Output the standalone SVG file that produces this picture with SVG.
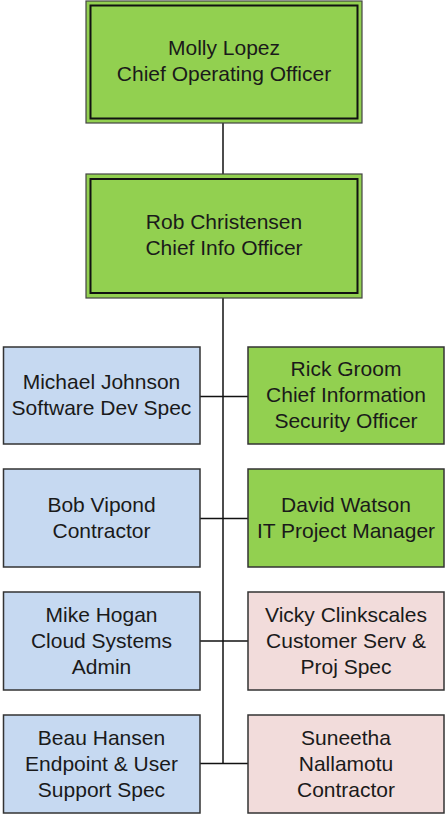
<svg xmlns="http://www.w3.org/2000/svg" width="445" height="817" viewBox="0 0 445 817">
<style>
.g{fill:#92D050}.b{fill:#C6D9F1}.p{fill:#F2DCDB}
.box{stroke:#333;stroke-width:1.5}
.outer{fill:#92D050;stroke:#444;stroke-width:1.2}
.inner{fill:none;stroke:#111;stroke-width:2}
text{font-family:"Liberation Sans",Arial,sans-serif;font-size:21px;fill:#1a1a1a;text-anchor:middle}
.c{stroke:#111;stroke-width:1.5;fill:none}
</style>
<rect width="445" height="817" fill="#fff"/>
<g id="connectors">
<line class="c" x1="223" y1="123" x2="223" y2="174"/>
<line class="c" x1="223" y1="298" x2="223" y2="763.5"/>
<line class="c" x1="200" y1="396.5" x2="248" y2="396.5"/>
<line class="c" x1="200" y1="518.5" x2="248" y2="518.5"/>
<line class="c" x1="200" y1="641" x2="248" y2="641"/>
<line class="c" x1="200" y1="763.5" x2="248" y2="763.5"/>
</g>
<g id="molly">
<rect class="outer" x="86" y="1" width="276" height="122"/>
<rect class="inner" x="90.5" y="5.5" width="267" height="113"/>
<text x="224" y="55">Molly Lopez</text>
<text x="224" y="81">Chief Operating Officer</text>
</g>
<g id="rob">
<rect class="outer" x="86" y="174" width="276" height="124"/>
<rect class="inner" x="90.5" y="179" width="267" height="114"/>
<text x="224" y="229">Rob Christensen</text>
<text x="224" y="255">Chief Info Officer</text>
</g>
<g id="michael">
<rect class="box b" x="3.5" y="347" width="196.5" height="97"/>
<text x="101.5" y="389">Michael Johnson</text>
<text x="101.5" y="415">Software Dev Spec</text>
</g>
<g id="rick">
<rect class="box g" x="248" y="347" width="196" height="97"/>
<text x="346" y="376">Rick Groom</text>
<text x="346" y="402">Chief Information</text>
<text x="346" y="428">Security Officer</text>
</g>
<g id="bob">
<rect class="box b" x="3.5" y="469" width="196.5" height="98"/>
<text x="101.5" y="512">Bob Vipond</text>
<text x="101.5" y="538">Contractor</text>
</g>
<g id="david">
<rect class="box g" x="248" y="469" width="196" height="98"/>
<text x="346" y="512">David Watson</text>
<text x="346" y="538">IT Project Manager</text>
</g>
<g id="mike">
<rect class="box b" x="3.5" y="592" width="196.5" height="98"/>
<text x="101.5" y="622">Mike Hogan</text>
<text x="101.5" y="648">Cloud Systems</text>
<text x="101.5" y="674">Admin</text>
</g>
<g id="vicky">
<rect class="box p" x="248" y="592" width="196" height="98"/>
<text x="346" y="622">Vicky Clinkscales</text>
<text x="346" y="648">Customer Serv &amp;</text>
<text x="346" y="674">Proj Spec</text>
</g>
<g id="beau">
<rect class="box b" x="3.5" y="715" width="196.5" height="98"/>
<text x="101.5" y="745">Beau Hansen</text>
<text x="101.5" y="771">Endpoint &amp; User</text>
<text x="101.5" y="797">Support Spec</text>
</g>
<g id="suneetha">
<rect class="box p" x="248" y="715" width="196" height="98"/>
<text x="346" y="745">Suneetha</text>
<text x="346" y="771">Nallamotu</text>
<text x="346" y="797">Contractor</text>
</g>
</svg>
